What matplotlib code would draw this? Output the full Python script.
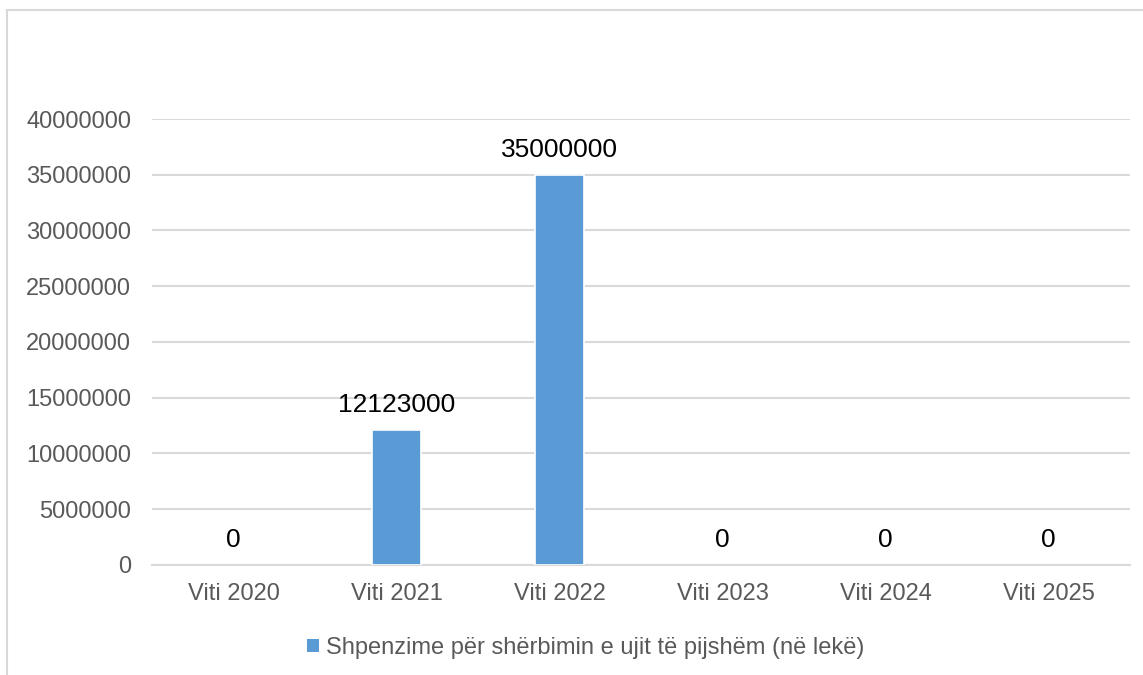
import matplotlib.pyplot as plt
from matplotlib.patches import Rectangle

plt.rcParams['font.family'] = ['Liberation Sans', 'DejaVu Sans']

# Te dhenat
years = ['Viti 2020', 'Viti 2021', 'Viti 2022', 'Viti 2023', 'Viti 2024', 'Viti 2025']
spending = [0, 12123000, 35000000, 0, 0, 0]
yticks = [0, 5000000, 10000000, 15000000, 20000000, 25000000, 30000000, 35000000, 40000000]
series_name = 'Shpenzime për shërbimin e ujit të pijshëm (në lekë)'

bar_color = '#5B9BD5'
grid_color = '#D9D9D9'
text_color = '#595959'

fig = plt.figure(figsize=(11.43, 6.75), dpi=100)
ax = fig.add_axes([0.133, 0.163, 0.8556, 0.6607])

# kornize e grafikut (prerë djathtas dhe poshtë)
fig.patches.append(Rectangle((7 / 1143, -0.1), 1.2, 1.1 - 10 / 675,
                             transform=fig.transFigure, fill=False,
                             edgecolor=grid_color, linewidth=1.5, clip_on=False))

x = range(len(years))
edge_w = [1.2 if v else 0 for v in spending]
bars = ax.bar(x, spending, width=0.3, color=bar_color, edgecolor='white',
              linewidth=edge_w, label=series_name, zorder=3)

for xi, v in zip(x, spending):
    ax.annotate(f"{v}", (xi, v), xytext=(0, 9), textcoords='offset points',
                ha='center', va='bottom', fontsize=19, color='black', zorder=4)

ax.set_xlim(-0.5, len(years) - 0.5)
ax.set_ylim(0, 40000000)
ax.set_yticks(yticks)
ax.set_yticklabels([str(t) for t in yticks])
ax.set_xticks(list(x))
ax.set_xticklabels(years)
ax.tick_params(axis='both', length=0, labelsize=17, labelcolor=text_color)
ax.tick_params(axis='y', pad=15)
ax.tick_params(axis='x', pad=13)

ax.grid(axis='y', color=grid_color, linewidth=1.5, zorder=0)
for s in ['top', 'right', 'left']:
    ax.spines[s].set_visible(False)
ax.spines['bottom'].set_color(grid_color)
ax.spines['bottom'].set_linewidth(1.5)
ax.spines['bottom'].set_zorder(1)

leg = fig.legend(loc='center', bbox_to_anchor=(586 / 1143, 1 - 648 / 675), frameon=False,
                 fontsize=17, handlelength=0.5, handleheight=0.5, handletextpad=0.3,
                 labelcolor=text_color, handles=[bars], labels=[series_name])

fig.savefig('out.png', dpi=100)
